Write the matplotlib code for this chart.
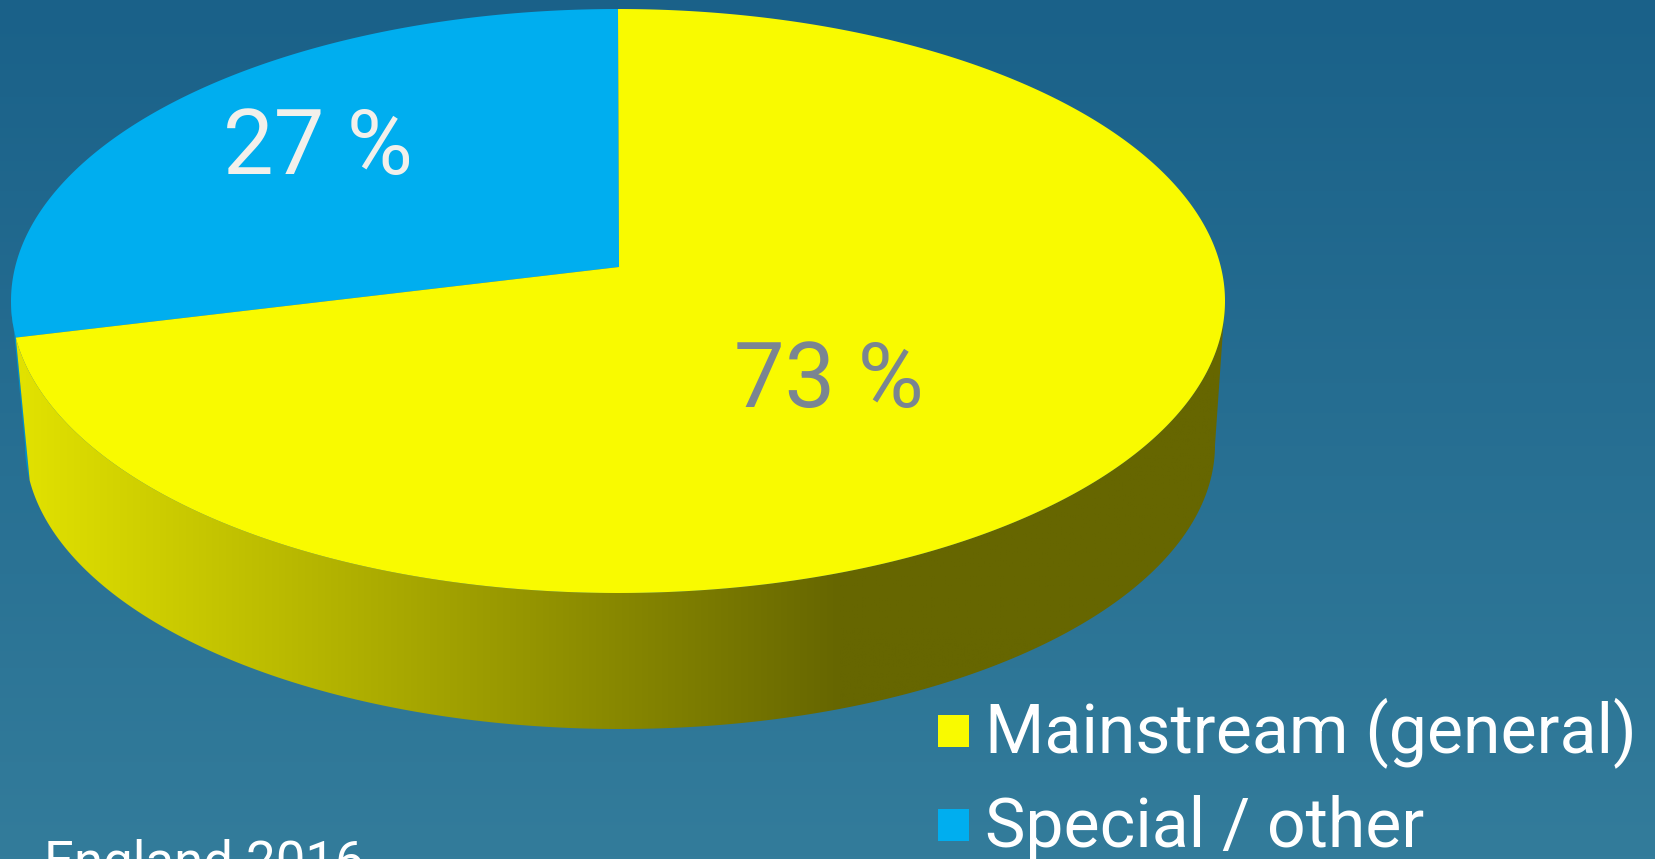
import numpy as np
import matplotlib
matplotlib.use("Agg")
import matplotlib.pyplot as plt
from matplotlib.patches import Polygon, Rectangle
from matplotlib.colors import LinearSegmentedColormap

# data
labels = ["Mainstream (general)", "Special / other"]
shares = [73, 27]
pie_colors = ["#F9FA00", "#00AEEF"]
side_blue = "#0092C8"
caption = "England 2016"

W, H = 1656, 859
plt.rcParams['font.family'] = ['Roboto', 'DejaVu Sans']

fig = plt.figure(figsize=(W / 100, H / 100), dpi=100)
ax = fig.add_axes([0, 0, 1, 1])
ax.set_xlim(0, W)
ax.set_ylim(H, 0)
ax.axis('off')

# background vertical gradient
bg = LinearSegmentedColormap.from_list("bg", ["#1A6189", "#337C9B"])
ax.imshow(np.linspace(0, 1, 256).reshape(-1, 1), cmap=bg, extent=[0, W, H, 0],
          aspect='auto', zorder=0)

# pie geometry (pixels)
top_c, top_a, top_b = (618, 301), 607, 292
bot_c, bot_a, bot_b = (620, 445), 595, 284
apex = (619, 267)


def ell(c, a, b, t):
    t = np.radians(t)
    return np.column_stack([c[0] + a * np.cos(t), c[1] - b * np.sin(t)])


# angles: blue starts at 12 o'clock going counter-clockwise
blue_span = 360 * shares[1] / sum(shares)
t0 = 90
t1 = t0 + blue_span
t2 = t0 + 360

# side walls (visible from 180 to 360 deg)
def side(ta, tb):
    t = np.linspace(ta, tb, 200)
    return np.vstack([ell(top_c, top_a, top_b, t), ell(bot_c, bot_a, bot_b, t[::-1])])

blue_side = Polygon(side(180, t1), closed=True, fc=side_blue, ec='none', zorder=2)
ax.add_patch(blue_side)

yel_side = Polygon(side(t1, 360), closed=True, fc='none', ec='none', zorder=2)
ax.add_patch(yel_side)
xs = np.linspace(0, W, 600)
lev = np.interp(xs, [26, 840], [225, 102]) / 255
grad = np.zeros((2, len(xs), 3))
grad[:, :, 0] = lev
grad[:, :, 1] = lev
img = ax.imshow(grad, extent=[0, W, 760, 250], aspect='auto', zorder=2)
img.set_clip_path(yel_side)

# top face wedges
t = np.linspace(t0, t1, 300)
blue_top = np.vstack([[apex], ell(top_c, top_a, top_b, t)])
ax.add_patch(Polygon(blue_top, closed=True, fc=pie_colors[1], ec='none', zorder=3))
t = np.linspace(t1, t2, 600)
yel_top = np.vstack([[apex], ell(top_c, top_a, top_b, t)])
ax.add_patch(Polygon(yel_top, closed=True, fc=pie_colors[0], ec='none', zorder=3))

# labels on slices
ax.text(318, 174, f"{shares[1]} %", color="#F2F0EB", fontsize=65, ha='center',
        va='baseline', zorder=5)
ax.text(829, 407, f"{shares[0]} %", color="#7A8591", fontsize=65, ha='center',
        va='baseline', zorder=5)

# legend
for i, (lab, col) in enumerate(zip(labels, pie_colors)):
    y0 = 715 + i * 94
    ax.add_patch(Rectangle((938, y0), 31, 32, fc=col, ec='none', zorder=5))
    ax.text(985, 752 + i * 95, lab, color='white', fontsize=49, ha='left',
            va='baseline', zorder=5)

ax.text(44, 878, caption, color='white', fontsize=38, ha='left', va='baseline',
        zorder=5)

fig.savefig("out.png", dpi=100)
